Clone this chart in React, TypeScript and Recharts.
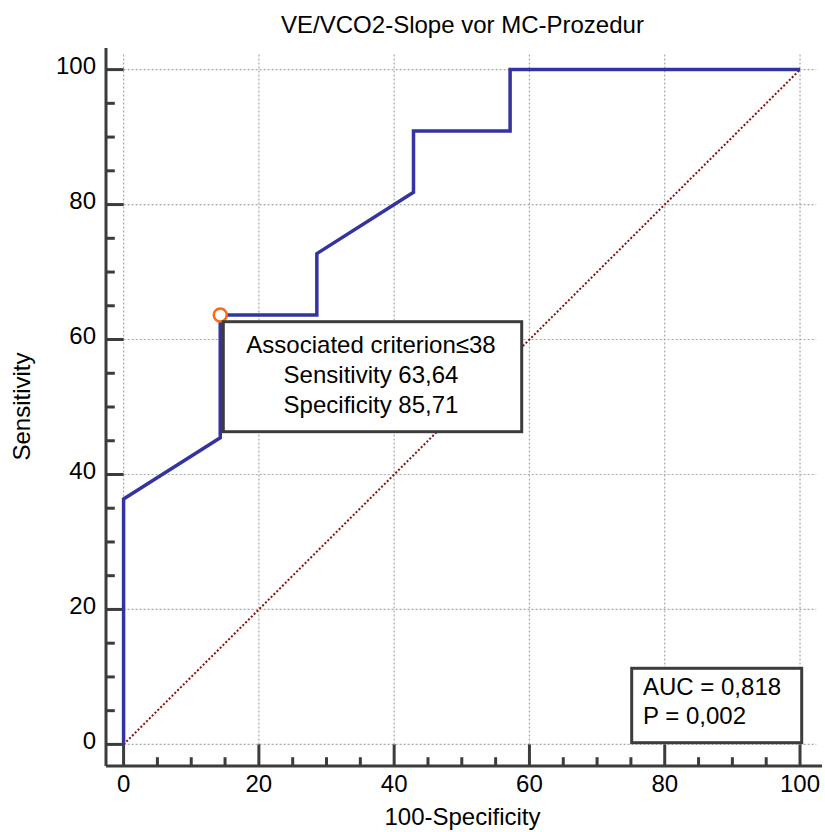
import React from 'react';
import { LineChart, Line, XAxis, YAxis, ReferenceLine, ReferenceDot } from 'recharts';

// ROC points (100-Specificity vs Sensitivity)
const rocFpr = [0, 0, 14.29, 14.29, 28.57, 28.57, 42.86, 42.86, 57.14, 57.14, 100];
const rocTpr = [0, 36.36, 45.45, 63.64, 63.64, 72.73, 81.82, 90.91, 90.91, 100, 100];
const diagonalX = [0, 100];
const diagonalY = [0, 100];
const cutoffPoint = [14.29, 63.64];

const majorTicks = [0, 20, 40, 60, 80, 100];
const minorTicks = [5, 10, 15, 25, 30, 35, 45, 50, 55, 65, 70, 75, 85, 90, 95];

const annotationLines = ['Associated criterion\u226438', 'Sensitivity 63,64', 'Specificity 85,71'];
const statsLines = ['AUC = 0,818', 'P = 0,002'];

const xDomain = [-2.6, 103.25];
const yDomain = [-3.2, 103.2];
const gridEnd = 102.4;
const minorLen = 1.3;

const FONT = "'Liberation Sans', Arial, sans-serif";
const AXIS = '#3c3c3c';
const GRID = '#a8a8a8';

const rocData = rocFpr.map((x, i) => ({ x, y: rocTpr[i] }));
const diagData = diagonalX.map((x, i) => ({ x, y: diagonalY[i] }));

const YTick = (props: any) => {
  const { x, y, payload } = props;
  return (
    <text x={x} y={y + 4.8} textAnchor="end" fontSize={24} fontFamily={FONT} fill="#000">
      {payload.value}
    </text>
  );
};

const XTick = (props: any) => {
  const { x, y, payload } = props;
  return (
    <text x={x} y={y + 26} textAnchor="middle" fontSize={24} fontFamily={FONT} fill="#000">
      {payload.value}
    </text>
  );
};

export default function App() {
  return (
    <div style={{ position: 'absolute', left: 0, top: 0, width: 825, height: 832, background: '#fff' }}>
      <LineChart width={825} height={832} margin={{ top: 48, right: 3, bottom: 6, left: 46 }}>
        <XAxis
          type="number"
          dataKey="x"
          domain={xDomain}
          ticks={majorTicks}
          tick={<XTick />}
          tickLine={false}
          tickSize={0}
          tickMargin={0}
          height={60}
          axisLine={{ stroke: AXIS, strokeWidth: 3 }}
          allowDataOverflow
        />
        <YAxis
          type="number"
          dataKey="y"
          domain={yDomain}
          ticks={majorTicks}
          tick={<YTick />}
          tickLine={false}
          tickSize={0}
          tickMargin={10}
          width={60}
          axisLine={{ stroke: AXIS, strokeWidth: 3 }}
          allowDataOverflow
        />

        {/* dotted grid */}
        {majorTicks.map(t => (
          <ReferenceLine key={'gv' + t} segment={[{ x: t, y: 0 }, { x: t, y: gridEnd }]}
            stroke={GRID} strokeWidth={1.2} strokeDasharray="2 2" ifOverflow="visible" />
        ))}
        {majorTicks.map(t => (
          <ReferenceLine key={'gh' + t} segment={[{ x: 0, y: t }, { x: gridEnd, y: t }]}
            stroke={GRID} strokeWidth={1.2} strokeDasharray="2 2" ifOverflow="visible" />
        ))}

        {/* inward tick marks */}
        {majorTicks.map(t => (
          <ReferenceLine key={'ty' + t} segment={[{ x: xDomain[0], y: t }, { x: 0, y: t }]}
            stroke={AXIS} strokeWidth={3} ifOverflow="visible" />
        ))}
        {minorTicks.map(t => (
          <ReferenceLine key={'my' + t} segment={[{ x: xDomain[0], y: t }, { x: xDomain[0] + minorLen, y: t }]}
            stroke={AXIS} strokeWidth={3} ifOverflow="visible" />
        ))}
        {majorTicks.map(t => (
          <ReferenceLine key={'tx' + t} segment={[{ x: t, y: yDomain[0] }, { x: t, y: 0 }]}
            stroke={AXIS} strokeWidth={3} ifOverflow="visible" />
        ))}
        {minorTicks.map(t => (
          <ReferenceLine key={'mx' + t} segment={[{ x: t, y: yDomain[0] }, { x: t, y: yDomain[0] + minorLen }]}
            stroke={AXIS} strokeWidth={3} ifOverflow="visible" />
        ))}

        <Line data={diagData} dataKey="y" type="linear" stroke="#8b1010" strokeWidth={2}
          strokeDasharray="2 2" dot={false} activeDot={false} isAnimationActive={false} />
        <Line data={rocData} dataKey="y" type="linear" stroke="#34349e" strokeWidth={3.5}
          dot={false} activeDot={false} isAnimationActive={false} />
        <ReferenceDot x={cutoffPoint[0]} y={cutoffPoint[1]} r={6.5} fill="#fff"
          stroke="#ff6a10" strokeWidth={2.5} ifOverflow="visible" />
      </LineChart>

      <svg width={825} height={832} style={{ position: 'absolute', left: 0, top: 0, pointerEvents: 'none' }}>
        <g fontFamily={FONT} fontSize={24} fill="#000">
          <text x={462.5} y={33} textAnchor="middle">VE/VCO2-Slope vor MC-Prozedur</text>
          <text x={462.5} y={825} textAnchor="middle">100-Specificity</text>
          <text transform="translate(30,406.5) rotate(-90)" textAnchor="middle">Sensitivity</text>

          <rect x={223.3} y={321.7} width={298.4} height={110} fill="#fff" stroke={AXIS} strokeWidth={3} />
          {annotationLines.map((s, i) => (
            <text key={s} x={371} y={353.3 + i * 29.7} textAnchor="middle">{s}</text>
          ))}

          <rect x={631.7} y={668.3} width={170} height={74.4} fill="#fff" stroke={AXIS} strokeWidth={3} />
          {statsLines.map((s, i) => (
            <text key={s} x={643} y={695 + i * 29} textAnchor="start">{s}</text>
          ))}
        </g>
      </svg>
    </div>
  );
}
